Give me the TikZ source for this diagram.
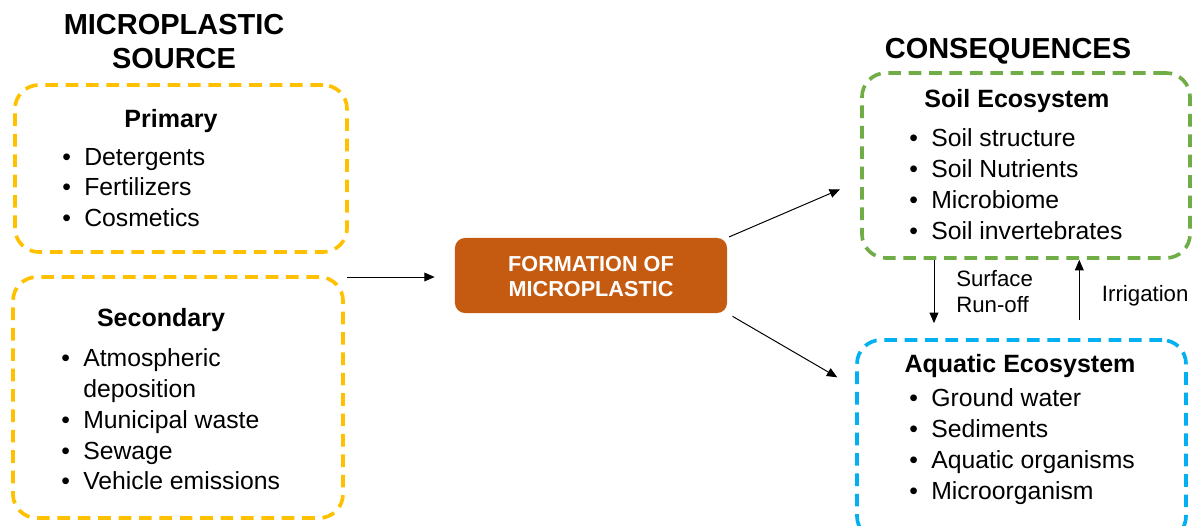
\documentclass[tikz,border=0pt]{standalone}
\usepackage{fontspec}
\setmainfont{Liberation Sans}
\usetikzlibrary{arrows.meta,positioning}
\definecolor{srcyellow}{HTML}{FFC000}
\definecolor{soilgreen}{HTML}{70AD47}
\definecolor{aquablue}{HTML}{00B0F0}
\definecolor{formorange}{HTML}{C55A11}

\begin{document}
\begin{tikzpicture}[x=0.025cm, y=-0.025cm,
    dashbox/.style={draw=#1, line width=2.6pt, dash pattern=on 9pt off 5.5pt,
        rounded corners=0.6cm, inner sep=0pt},
    title/.style={font=\fontsize{20.6}{24.5}\selectfont\bfseries, anchor=base, inner sep=0pt},
    head/.style={font=\fontsize{17.8}{22}\selectfont\bfseries, anchor=base, inner sep=0pt},
    list/.style={font=\fontsize{17.6}{21.9}\selectfont, anchor=base west, inner sep=0pt},
    lbl/.style={font=\fontsize{15.8}{18.5}\selectfont, anchor=base west, inner sep=0pt},
    arr/.style={-{Triangle[length=0.26cm,width=0.22cm]}, line width=0.7pt}]
    \useasboundingbox (0,0) rectangle (1192,526);

    % boxes
    \node[dashbox=srcyellow, minimum width=8.3cm, minimum height=4.175cm] (prim) at (181,168.5) {};
    \node[dashbox=srcyellow, minimum width=8.25cm, minimum height=6.025cm] (sec) at (178,397.5) {};
    \node[draw=none, fill=formorange, rounded corners=0.25cm,
        minimum width=6.8cm, minimum height=1.875cm] (form) at (591,275.5) {};
    \node[dashbox=soilgreen, minimum width=8.2cm, minimum height=4.625cm] (soil) at (1026,165.5) {};
    \node[dashbox=aquablue, minimum width=8.225cm, minimum height=5cm] (aqua) at (1021.5,440) {};

    % titles and headings
    \node[title] (srctitle) at (174,34.3) {\begin{tabular}[t]{@{}c@{}}MICROPLASTIC\\SOURCE\end{tabular}};
    \node[title] (contitle) at (1008,58.3) {CONSEQUENCES};
    \node[head] (primhead) at (171,127.5) {Primary};
    \node[head] (sechead) at (161,326) {Secondary};
    \node[head] (soilhead) at (1017,107.5) {Soil Ecosystem};
    \node[head] (aquahead) at (1020,372.5) {Aquatic Ecosystem};
    \node[font=\fontsize{15.4}{17.8}\selectfont\bfseries, text=white, anchor=base, inner sep=0pt]
        (formtext) at (591,271.7) {\begin{tabular}[t]{@{}c@{}}FORMATION OF\\MICROPLASTIC\end{tabular}};

    % lists
    \node[list] (primlist) at (62,165) {\begin{tabular}[t]{@{}l@{\hspace{9.5pt}}l@{}}
        •&Detergents\\ •&Fertilizers\\ •&Cosmetics\end{tabular}};
    \node[list] (seclist) at (61,366.7) {\begin{tabular}[t]{@{}l@{\hspace{9.5pt}}l@{}}
        •&Atmospheric\\ &deposition\\ •&Municipal waste\\ •&Sewage\\ •&Vehicle emissions\end{tabular}};
    \node[list] (soillist) at (909,146.7) {\begin{tabular}[t]{@{}l@{\hspace{9.5pt}}l@{}}
        •&Soil structure\\ •&Soil Nutrients\\ •&Microbiome\\ •&Soil invertebrates\end{tabular}};
    \node[list] (aqualist) at (909,406.7) {\begin{tabular}[t]{@{}l@{\hspace{9.5pt}}l@{}}
        •&Ground water\\ •&Sediments\\ •&Aquatic organisms\\ •&Microorganism\end{tabular}};

    % connectors
    \coordinate (srcout) at (347,277);
    \coordinate (soilin) at (840,189.3);
    \coordinate (aquain) at (837.3,377.3);
    \coordinate (runx) at (934,0);
    \coordinate (irrx) at (1079.3,0);
    \draw[arr, shorten >=0.5cm] (srcout) -- (srcout -| form.west);
    \draw[arr, shorten <=0.05cm] (form.north east) -- (soilin);
    \draw[arr, shorten <=0.15cm] (form.south east) -- (aquain);
    \draw[arr, shorten >=0.375cm] (soil.south -| runx) -- (aqua.north -| runx);
    \draw[arr, line width=0.45pt, shorten <=0.45cm] (aqua.north -| irrx) -- (soil.south -| irrx);

    \node[lbl] (surflbl) at (956,286.7) {\begin{tabular}[t]{@{}l@{}}Surface\\Run-off\end{tabular}};
    \node[lbl] (irrlbl) at (1101.7,301) {Irrigation};
\end{tikzpicture}
\end{document}
